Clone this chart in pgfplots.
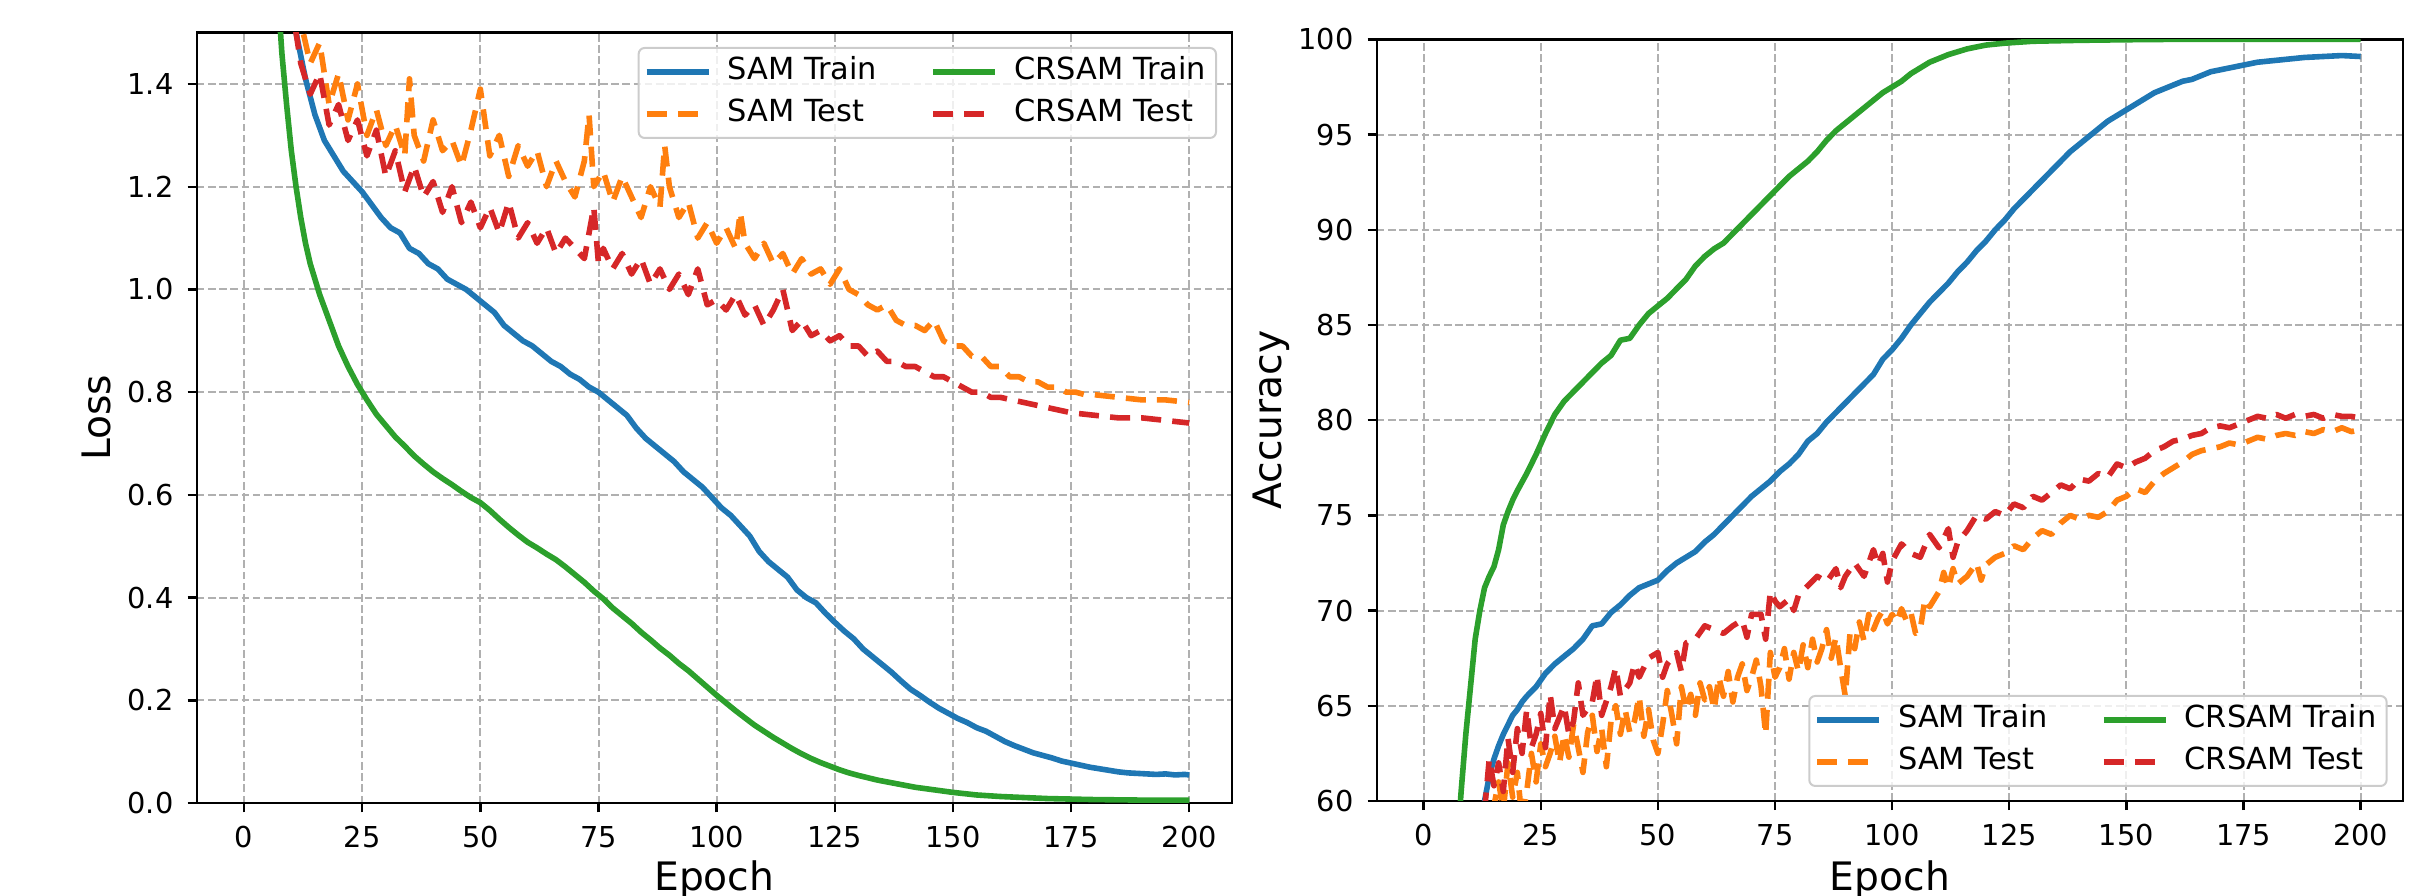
\documentclass[border=0pt]{standalone}
\usepackage{fontspec}
\setmainfont{DejaVu Sans}
\usepackage{pgfplots}
\pgfplotsset{compat=1.18}
\definecolor{c0}{HTML}{1F77B4}
\definecolor{c1}{HTML}{FF7F0E}
\definecolor{c2}{HTML}{2CA02C}
\definecolor{c3}{HTML}{D62728}
\definecolor{gridc}{HTML}{B0B0B0}
\pgfplotsset{
  mpl/.style={
    scale only axis,
    xmin=-10, xmax=209,
    xtick={0,25,...,200},
    grid=major,
    major grid style={color=gridc, line width=0.5pt, dash pattern=on 1.9pt off 0.9pt},
    axis line style={line width=0.6pt},
    tick style={black, line width=0.6pt},
    major tick length=2.3pt,
    tick align=outside,
    xtick pos=bottom, ytick pos=left,
    ticklabel style={font=\fontsize{7.2}{8}\selectfont},
    /pgf/number format/assume math mode=true,
    label style={font=\fontsize{9.8}{11}\selectfont},
    legend columns=2,
    transpose legend,
    legend cell align=left,
    legend style={font=\fontsize{7.6}{8.5}\selectfont, draw=black!20, rounded corners=1.5pt,
      fill=white, fill opacity=0.8, text opacity=1, line width=0.5pt,
      inner xsep=1.3pt, inner ysep=0.75pt,
      nodes={inner xsep=1.2pt, inner ysep=1.75pt, text height=5.5pt, text depth=1.5pt},
      /tikz/every odd column/.append style={column sep=2.85pt},
      /tikz/every even column/.append style={column sep=12.1pt}},
    legend image code/.code={\draw[#1] (0pt,0pt) -- (15.5pt,0pt);},
    every axis plot/.append style={line width=1.4pt, line join=round},
  },
  tr/.style={solid},
  te/.style={dash pattern=on 5pt off 2.8pt},
}
\begin{document}
\begin{tikzpicture}
\useasboundingbox (0,0) rectangle (605.5pt,224pt);
\clip (0,0) rectangle (605.5pt,224pt);
\begin{axis}[mpl,
  at={(49.2pt,23.2pt)}, anchor=south west,
  width=258.75pt, height=192.65pt,
  ymin=0, ymax=1.5,
  ytick={0,0.2,...,1.4},
  yticklabel style={/pgf/number format/fixed, /pgf/number format/fixed zerofill, /pgf/number format/precision=1},
  xlabel={Epoch}, ylabel={Loss},
  xlabel style={at={(axis description cs:0.5,0)}, anchor=base, yshift=-21.9pt},
  ylabel style={at={(axis description cs:-0.0966,0.5)}, anchor=center},
  legend style={at={(axis description cs:1,1)}, anchor=north east, xshift=-3.7pt, yshift=-3.6pt},
]
\addplot[c0, tr] coordinates {
(0,2.35)(3,2.05)(6,1.80)(9,1.60)(11,1.50)(13,1.41)(15,1.34)(17,1.29)(19,1.26)(21,1.23)(23,1.21)(25,1.19)(27,1.165)(29,1.14)(31,1.12)(33,1.11)(35,1.08)(37,1.07)(39,1.05)(41,1.04)(43,1.02)(45,1.01)(47,1.00)(49,0.985)(51,0.97)(53,0.955)(55,0.93)(57,0.915)(59,0.90)(61,0.89)(63,0.875)(65,0.86)(67,0.85)(69,0.835)(71,0.825)(73,0.81)(75,0.80)(77,0.785)(79,0.77)(81,0.755)(83,0.73)(85,0.71)(87,0.695)(89,0.68)(91,0.665)(93,0.645)(95,0.63)(97,0.615)(99,0.595)(101,0.575)(103,0.56)(105,0.54)(107,0.52)(109,0.49)(111,0.47)(113,0.455)(115,0.44)(117,0.415)(119,0.40)(121,0.39)(123,0.37)(125,0.352)(127,0.335)(129,0.32)(131,0.30)(133,0.285)(135,0.27)(137,0.255)(139,0.238)(141,0.222)(143,0.21)(145,0.197)(147,0.185)(149,0.175)(151,0.165)(153,0.157)(155,0.147)(157,0.14)(159,0.13)(161,0.12)(163,0.112)(165,0.105)(167,0.098)(169,0.093)(171,0.088)(173,0.082)(175,0.078)(177,0.074)(179,0.07)(181,0.067)(183,0.064)(185,0.061)(187,0.059)(189,0.058)(191,0.057)(193,0.056)(195,0.057)(197,0.055)(199,0.056)(200,0.055)};
\addlegendentry{SAM Train}
\addplot[c1, te] coordinates {
(0,2.4)(8,1.75)(12,1.52)(14,1.44)(16,1.48)(18,1.36)(20,1.42)(22,1.33)(24,1.40)(26,1.30)(28,1.35)(30,1.28)(32,1.32)(34,1.26)(35,1.41)(36,1.30)(38,1.25)(40,1.33)(42,1.27)(44,1.29)(46,1.24)(48,1.31)(50,1.39)(52,1.26)(54,1.30)(56,1.22)(58,1.28)(60,1.24)(62,1.27)(64,1.20)(66,1.25)(68,1.21)(70,1.18)(72,1.25)(73,1.34)(74,1.20)(76,1.23)(78,1.17)(80,1.22)(82,1.18)(84,1.14)(86,1.20)(88,1.16)(89,1.28)(90,1.20)(92,1.14)(94,1.17)(96,1.10)(98,1.13)(100,1.09)(102,1.12)(104,1.08)(105,1.15)(106,1.09)(108,1.06)(110,1.09)(112,1.05)(114,1.07)(116,1.03)(118,1.06)(120,1.03)(122,1.04)(124,1.01)(126,1.04)(128,1.00)(130,0.99)(132,0.97)(134,0.96)(136,0.97)(138,0.94)(140,0.93)(142,0.93)(144,0.92)(146,0.94)(148,0.90)(150,0.89)(152,0.89)(154,0.87)(156,0.87)(158,0.85)(160,0.85)(162,0.83)(164,0.83)(166,0.82)(168,0.82)(170,0.81)(172,0.81)(174,0.80)(176,0.80)(178,0.795)(180,0.795)(185,0.79)(190,0.785)(195,0.785)(200,0.78)};
\addlegendentry{SAM Test}
\addplot[c2, tr] coordinates {
(0,2.6)(3,2.2)(5,1.9)(7,1.6)(8,1.46)(9,1.36)(10,1.27)(11,1.20)(12,1.14)(13,1.09)(14,1.05)(15,1.02)(16,0.99)(17,0.965)(18,0.94)(19,0.915)(20,0.89)(22,0.85)(24,0.815)(26,0.785)(28,0.757)(30,0.735)(32,0.713)(34,0.695)(36,0.676)(38,0.66)(40,0.645)(42,0.632)(44,0.62)(46,0.607)(48,0.595)(50,0.585)(52,0.57)(54,0.553)(56,0.537)(58,0.522)(60,0.508)(62,0.497)(64,0.485)(66,0.474)(68,0.46)(70,0.445)(72,0.43)(74,0.413)(76,0.398)(78,0.38)(80,0.365)(82,0.35)(84,0.333)(86,0.318)(88,0.302)(90,0.288)(92,0.272)(94,0.258)(96,0.242)(98,0.226)(100,0.21)(102,0.195)(104,0.18)(106,0.166)(108,0.152)(110,0.14)(112,0.128)(114,0.117)(116,0.106)(118,0.096)(120,0.087)(122,0.079)(124,0.072)(126,0.065)(128,0.059)(130,0.054)(134,0.045)(138,0.038)(142,0.031)(146,0.026)(150,0.021)(155,0.016)(160,0.013)(165,0.011)(170,0.009)(180,0.007)(190,0.006)(200,0.006)};
\addlegendentry{CRSAM Train}
\addplot[c3, te] coordinates {
(0,2.35)(7,1.75)(11,1.50)(12,1.44)(14,1.38)(16,1.42)(18,1.32)(20,1.36)(22,1.29)(24,1.33)(26,1.26)(28,1.31)(30,1.22)(32,1.27)(34,1.19)(36,1.24)(38,1.18)(40,1.21)(42,1.15)(44,1.20)(46,1.13)(48,1.17)(50,1.12)(52,1.16)(54,1.11)(56,1.17)(58,1.10)(60,1.13)(62,1.09)(64,1.12)(66,1.07)(68,1.10)(70,1.08)(72,1.06)(74,1.16)(75,1.05)(76,1.08)(78,1.04)(80,1.07)(82,1.03)(84,1.06)(86,1.01)(88,1.04)(90,1.00)(92,1.03)(94,0.99)(96,1.04)(98,0.97)(100,0.98)(102,0.96)(104,0.99)(106,0.95)(108,0.97)(110,0.93)(112,0.96)(114,1.00)(116,0.92)(118,0.94)(120,0.91)(122,0.92)(124,0.90)(126,0.91)(128,0.89)(130,0.89)(132,0.87)(134,0.88)(136,0.86)(138,0.86)(140,0.85)(142,0.85)(144,0.84)(146,0.83)(148,0.83)(150,0.82)(152,0.81)(154,0.80)(156,0.80)(158,0.79)(160,0.79)(165,0.78)(170,0.77)(175,0.76)(180,0.755)(185,0.75)(190,0.75)(195,0.745)(200,0.74)};
\addlegendentry{CRSAM Test}
\end{axis}
\begin{axis}[mpl,
  at={(344.2pt,23.75pt)}, anchor=south west,
  width=256.5pt, height=190.4pt,
  ymin=60, ymax=100,
  ytick={60,65,...,100},
  xlabel={Epoch}, ylabel={Accuracy},
  xlabel style={at={(axis description cs:0.5,0)}, anchor=base, yshift=-22.4pt},
  ylabel style={at={(axis description cs:-0.103,0.5)}, anchor=center},
  legend style={at={(axis description cs:1,0)}, anchor=south east, xshift=-3.8pt, yshift=3.5pt},
]
\addplot[c0, tr] coordinates {
(0,25)(5,40)(10,53)(12,58)(13,60)(14,61.3)(15,62.2)(16,62.9)(17,63.5)(18,64)(19,64.5)(20,64.8)(21,65.2)(22,65.5)(24,66)(26,66.7)(28,67.2)(30,67.6)(32,68)(34,68.5)(36,69.2)(38,69.3)(40,69.9)(42,70.3)(44,70.8)(46,71.2)(48,71.4)(50,71.6)(52,72.1)(54,72.5)(56,72.8)(58,73.1)(60,73.6)(62,74)(64,74.5)(66,75)(68,75.5)(70,76)(72,76.4)(74,76.8)(76,77.3)(78,77.7)(80,78.2)(82,78.9)(84,79.3)(86,79.9)(88,80.4)(90,80.9)(92,81.4)(94,81.9)(96,82.4)(98,83.2)(100,83.7)(102,84.3)(104,85)(106,85.6)(108,86.2)(110,86.7)(112,87.2)(114,87.8)(116,88.3)(118,88.9)(120,89.4)(122,90)(124,90.5)(126,91.1)(128,91.6)(130,92.1)(132,92.6)(134,93.1)(136,93.6)(138,94.1)(140,94.5)(142,94.9)(144,95.3)(146,95.7)(148,96)(150,96.3)(152,96.6)(154,96.9)(156,97.2)(158,97.4)(160,97.6)(162,97.8)(164,97.9)(166,98.1)(168,98.3)(170,98.4)(172,98.5)(174,98.6)(176,98.7)(178,98.8)(180,98.85)(184,98.95)(188,99.05)(192,99.1)(196,99.15)(200,99.1)};
\addlegendentry{SAM Train}
\addplot[c1, te] coordinates {
(0,35)(14,58.5)(16,61.0)(17,59.5)(18,62.0)(19,60.2)(20,61.5)(21,59.0)(22,60.5)(23,62.5)(24,61.0)(25,63.0)(26,61.8)(27,62.5)(28,63.4)(29,62.0)(30,63.5)(31,62.3)(32,64.0)(33,62.8)(34,61.5)(35,63.6)(36,64.5)(37,62.6)(38,63.8)(39,61.8)(40,64.2)(41,65.0)(42,63.5)(43,64.8)(44,63.6)(45,64.2)(46,65.5)(47,63.4)(48,64.8)(49,63.2)(50,62.5)(51,64.0)(52,65.8)(53,64.5)(54,63.0)(55,66.0)(56,64.8)(57,65.6)(58,64.5)(59,66.2)(60,65.3)(61,66.0)(62,64.8)(63,66.5)(64,65.5)(65,66.8)(66,65.2)(67,66.5)(68,67.2)(69,65.8)(70,66.5)(71,67.4)(72,66.0)(73,63.5)(74,67.8)(75,66.5)(76,67.0)(77,68.0)(78,66.4)(79,67.8)(80,66.8)(81,68.2)(82,67.0)(83,68.5)(84,67.3)(85,68.0)(86,69.0)(87,67.5)(88,68.6)(89,67.0)(90,65.5)(91,68.8)(92,68.0)(93,69.4)(94,68.4)(95,69.8)(96,69.0)(97,69.6)(98,70.0)(99,69.3)(100,69.8)(101,69.4)(102,70.1)(103,69.5)(104,69.9)(105,68.8)(106,69.0)(107,70.6)(108,70.2)(110,71.0)(111,72.0)(112,71.2)(113,72.2)(114,71.4)(116,71.8)(118,72.5)(119,71.6)(120,72.4)(122,72.8)(124,73.0)(126,73.4)(128,73.2)(130,73.8)(132,74.2)(134,74.0)(136,74.6)(138,75.0)(140,74.8)(142,75.0)(144,74.9)(146,75.2)(148,75.8)(150,76.0)(152,76.4)(154,76.2)(156,76.8)(158,77.2)(160,77.5)(162,77.8)(164,78.2)(166,78.4)(168,78.5)(170,78.6)(172,78.8)(174,78.7)(176,78.9)(178,79.1)(180,79.0)(182,79.2)(184,79.3)(186,79.2)(188,79.4)(190,79.3)(192,79.5)(194,79.4)(196,79.6)(198,79.4)(200,79.5)};
\addlegendentry{SAM Test}
\addplot[c2, tr] coordinates {
(0,30)(4,45)(6,53)(7,57)(8,60.5)(9,63.5)(10,66)(11,68.5)(12,70)(13,71.2)(14,71.8)(15,72.3)(16,73.2)(17,74.5)(18,75.2)(19,75.8)(20,76.3)(22,77.2)(24,78.2)(26,79.3)(28,80.3)(30,81)(32,81.5)(34,82)(36,82.5)(38,83)(40,83.4)(42,84.2)(44,84.3)(46,85)(48,85.6)(50,86)(52,86.4)(54,86.9)(56,87.4)(58,88.1)(60,88.6)(62,89)(64,89.3)(66,89.8)(68,90.3)(70,90.8)(72,91.3)(74,91.8)(76,92.3)(78,92.8)(80,93.2)(82,93.6)(84,94.1)(86,94.7)(88,95.2)(90,95.6)(92,96)(94,96.4)(96,96.8)(98,97.2)(100,97.5)(102,97.8)(104,98.2)(106,98.5)(108,98.8)(110,99)(112,99.2)(114,99.35)(116,99.5)(118,99.6)(120,99.7)(124,99.8)(130,99.9)(140,99.95)(150,99.98)(160,100)(200,100)};
\addlegendentry{CRSAM Train}
\addplot[c3, te] coordinates {
(0,40)(10,56)(13,59.5)(14,62.2)(15,60.8)(16,62.0)(17,60.5)(18,63.3)(19,61.5)(20,63.8)(21,62.5)(22,64.8)(23,62.8)(24,63.5)(25,64.6)(26,62.8)(27,65.6)(28,63.8)(30,65.0)(31,63.5)(32,64.2)(33,66.2)(34,64.5)(36,65.2)(37,66.6)(38,64.5)(40,66.0)(41,67.0)(42,65.5)(44,66.2)(45,67.2)(46,66.5)(48,67.5)(50,67.8)(51,66.5)(52,67.2)(54,67.8)(55,66.8)(56,68.3)(58,68.5)(60,69.2)(62,69.0)(64,68.8)(66,69.2)(68,69.5)(69,68.6)(70,69.8)(72,69.8)(73,68.5)(74,71.0)(75,70.5)(76,70.2)(78,70.6)(79,70.0)(80,70.8)(82,71.3)(84,71.8)(86,71.5)(88,72.2)(89,71.2)(90,71.8)(92,72.5)(94,71.8)(96,73.2)(97,72.4)(98,73.0)(99,71.5)(100,72.6)(102,73.5)(104,73.0)(106,72.8)(108,74.0)(110,73.3)(112,74.3)(113,72.8)(114,73.6)(116,74.2)(118,75.0)(120,74.8)(122,75.2)(124,75.0)(126,75.6)(128,75.4)(130,76.0)(132,75.8)(134,76.2)(136,76.6)(138,76.4)(140,76.9)(142,76.8)(144,77.2)(146,77.0)(148,77.7)(150,77.5)(152,77.8)(154,78.0)(156,78.4)(158,78.6)(160,78.9)(162,79.0)(164,79.2)(166,79.3)(168,79.6)(170,79.7)(172,79.6)(174,79.8)(176,80.0)(178,80.2)(180,80.1)(182,80.3)(184,80.1)(186,80.3)(188,80.2)(190,80.3)(192,80.1)(194,80.3)(196,80.2)(198,80.2)(200,80.1)};
\addlegendentry{CRSAM Test}
\end{axis}
\end{tikzpicture}
\end{document}
